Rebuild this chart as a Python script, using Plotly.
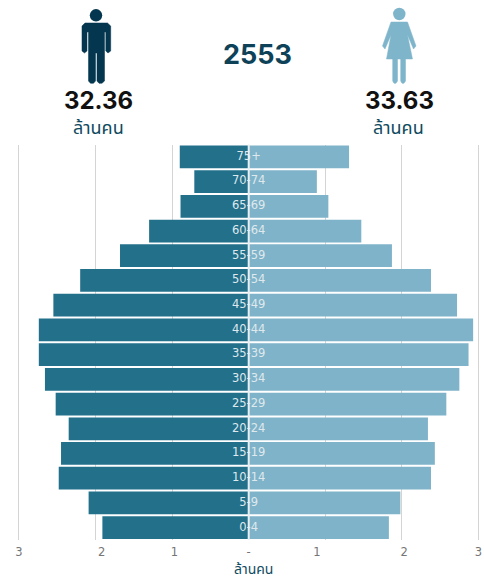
import plotly.graph_objects as go

age_groups = ["0-4", "5-9", "10-14", "15-19", "20-24", "25-29", "30-34", "35-39",
              "40-44", "45-49", "50-54", "55-59", "60-64", "65-69", "70-74", "75+"]
male = [1.91, 2.09, 2.48, 2.45, 2.35, 2.52, 2.66, 2.74, 2.74, 2.55, 2.20, 1.68, 1.30, 0.89, 0.71, 0.90]
female = [1.83, 1.98, 2.38, 2.43, 2.34, 2.58, 2.75, 2.87, 2.93, 2.72, 2.38, 1.87, 1.47, 1.04, 0.89, 1.31]
year = "2553"
male_total = "32.36"
female_total = "33.63"
unit = "ล้านคน"
grid_values = [-3, -2, -1, 1, 2, 3]
tick_positions = [-3, -1.92, -0.97, 0, 0.89, 2.03, 3]
tick_labels = ["3", "2", "1", "-", "1", "2", "3"]

W, H = 484, 579
CENTER, SCALE = 248.7, 76.6
MALE_BAR, FEMALE_BAR = "#23708b", "#7fb3c9"
MALE_ICON, FEMALE_ICON = "#04364f", "#7fb5cb"
THAI = "Noto Sans Thai, Noto Sans, Tahoma, DejaVu Sans, sans-serif"


def px(x, y):
    return f"{x / W:.5f},{1 - y / H:.5f}"


def path(points):
    return "M" + " L".join(px(x, y) for x, y in points) + " Z"


def head(cx, cy, r, color):
    return dict(type="circle", xref="paper", yref="paper", x0=(cx - r) / W, x1=(cx + r) / W,
                y0=1 - (cy + r) / H, y1=1 - (cy - r) / H, fillcolor=color, line_width=0, layer="above")


def poly(points, color):
    return dict(type="path", xref="paper", yref="paper", path=path(points), fillcolor=color,
                line=dict(color=color, width=0.5), layer="above")


man_body = [(85, 23), (107.5, 23), (110.7, 26), (110.7, 51), (108, 53), (105.8, 51), (105.8, 32),
            (104.5, 32), (104.5, 81), (102, 83.3), (99, 83.3), (97, 81), (97, 53), (95.5, 53), (95.5, 81),
            (93.5, 83.3), (90.5, 83.3), (88.5, 81), (88.5, 32), (87, 32), (87, 51), (84.5, 53), (82, 51), (82, 26)]
woman_body = [(391, 22), (407.5, 22), (416, 46), (413.5, 49), (407.5, 35), (412.5, 59), (405.5, 59), (405.5, 81),
              (404, 83.3), (402, 83.3), (400.7, 81), (400.7, 59), (397.5, 59), (397.5, 81), (396, 83.3),
              (394, 83.3), (392.7, 81), (392.7, 59), (386.5, 59), (391, 35), (385, 49), (382.5, 46)]

fig = go.Figure()
fig.add_bar(y=age_groups, x=[-v for v in male], orientation="h", marker=dict(color=MALE_BAR, line_width=0),
            name="ชาย", showlegend=False, width=0.92)
fig.add_bar(y=age_groups, x=female, orientation="h", marker=dict(color=FEMALE_BAR, line_width=0),
            name="หญิง", showlegend=False, width=0.92)
fig.add_scatter(y=age_groups, x=[0] * len(age_groups), mode="text", text=age_groups,
                textposition="middle center", textfont=dict(color="#dfe9ed", size=11.5, family="DejaVu Sans"),
                showlegend=False, hoverinfo="skip")


def text(s, x, y, size, color, family=THAI, bold=False):
    return dict(text=f"<b>{s}</b>" if bold else s, xref="paper", yref="paper", x=x / W, y=1 - y / H,
                showarrow=False, xanchor="center", yanchor="middle",
                font=dict(size=size, color=color, family=family))


fig.update_layout(
    width=W, height=H, margin=dict(l=0, r=0, t=0, b=0), paper_bgcolor="white", plot_bgcolor="white",
    barmode="overlay", bargap=0.08,
    xaxis=dict(range=[-CENTER / SCALE, (W - CENTER) / SCALE], tickvals=tick_positions, ticktext=tick_labels,
               showgrid=False, zeroline=False, showline=False, ticks="", ticklabelstandoff=3,
               tickfont=dict(size=11.5, color="#757575", family="DejaVu Sans"),
               minor=dict(tickvals=grid_values, showgrid=True, gridcolor="#d4d4d4", gridwidth=1, ticks="")),
    yaxis=dict(domain=[1 - 540 / H, 1 - 144.5 / H], range=[-0.5, 15.5], showticklabels=False, showgrid=False,
               zeroline=False, showline=False, ticks="", type="category",
               categoryorder="array", categoryarray=age_groups),
    shapes=[
        head(96, 15.3, 6.2, MALE_ICON), poly(man_body, MALE_ICON),
        head(399.3, 14, 6.2, FEMALE_ICON), poly(woman_body, FEMALE_ICON),
        dict(type="line", xref="x", yref="paper", x0=0, x1=0, y0=1 - 540 / H, y1=1 - 144.5 / H,
             line=dict(color="#e8eef1", width=2), layer="above"),
    ],
    annotations=[
        text(year, 257, 55, 27, "#0e4258", "Inter", True),
        text(male_total, 98, 100, 24, "#111111", "Inter", True),
        text(female_total, 399.5, 100, 24, "#111111", "Inter", True),
        text(unit, 98, 128, 18, "#0f4a60"),
        text(unit, 398, 128, 18, "#0f4a60"),
        text(unit, 253.5, 569, 14, "#0f4a60"),
    ],
)
fig.write_html("out.html", config={"displayModeBar": False},
               post_script="document.body.style.margin='0';document.body.style.overflow='hidden';")
